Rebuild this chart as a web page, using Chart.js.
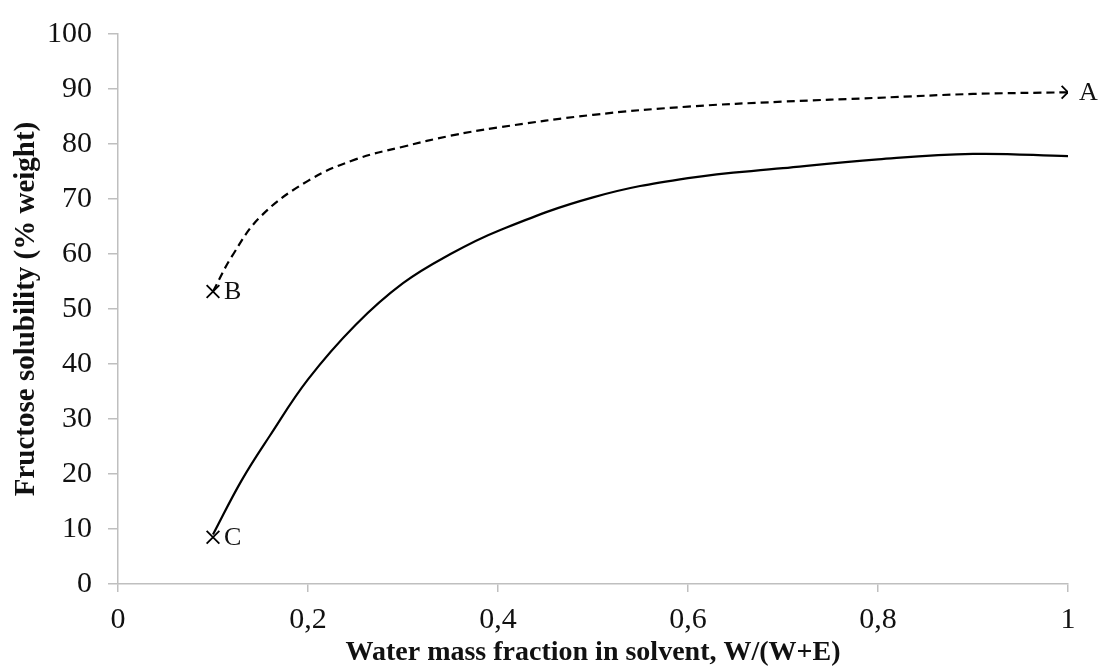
<!DOCTYPE html>
<html>
<head>
<meta charset="utf-8">
<script src="https://cdn.jsdelivr.net/npm/chart.js"></script>
<style>
  html, body { margin:0; padding:0; background:#fff; }
  #wrap { width:1102px; height:667px; }
</style>
</head>
<body>
<div id="wrap"><canvas id="chartSol" width="1102" height="667"></canvas></div>
<script>
// ── Data ──
const solidX  = [0.10, 0.13, 0.16, 0.20, 0.25, 0.30, 0.35, 0.40, 0.50, 0.60, 0.70, 0.80, 0.90, 1.00];
const solidY  = [9, 18.8, 27.0, 37.2, 47.1, 54.7, 60.0, 64.2, 70.3, 73.8, 75.6, 77.2, 78.2, 77.8];
const dashedX = [0.10, 0.12, 0.15, 0.20, 0.25, 0.30, 0.35, 0.40, 0.50, 0.60, 0.70, 0.80, 0.90, 1.00];
const dashedY = [53.2, 59.6, 66.8, 73.3, 77.2, 79.5, 81.5, 83.0, 85.3, 86.8, 87.7, 88.4, 89.1, 89.4];

const markerX      = [1.0, 0.1, 0.1];
const markerY      = [89.4, 53.2, 8.5];
const markerLabels = ['A', 'B', 'C'];

const xTicks = [0, 0.2, 0.4, 0.6, 0.8, 1];
const yTicks = [0, 10, 20, 30, 40, 50, 60, 70, 80, 90, 100];

const SERIF = "'Liberation Serif', 'DejaVu Serif', serif";
const AXIS_GREY = '#bfbfbf';

const toPts = (xs, ys) => xs.map((x, i) => ({ x, y: ys[i] }));

// ── Point labels (A, B, C) ──
const pointLabels = {
  id: 'pointLabels',
  afterDatasetsDraw(chart) {
    const meta = chart.getDatasetMeta(2);
    const ctx  = chart.ctx;
    ctx.save();
    ctx.font = '26px ' + SERIF;
    ctx.fillStyle = '#111';
    ctx.textBaseline = 'middle';
    ctx.textAlign = 'left';
    meta.data.forEach((el, i) => {
      ctx.fillText(markerLabels[i], el.x + 11, el.y + 1);
    });
    ctx.restore();
  }
};

new Chart(document.getElementById('chartSol').getContext('2d'), {
  type: 'scatter',
  data: {
    datasets: [
      {
        label: 'solid',
        data: toPts(solidX, solidY),
        showLine: true,
        borderColor: '#000',
        borderWidth: 2.2,
        pointRadius: 0,
        tension: 0.4,
      },
      {
        label: 'dashed',
        data: toPts(dashedX, dashedY),
        showLine: true,
        borderColor: '#000',
        borderWidth: 2.2,
        borderDash: [8, 5],
        pointRadius: 0,
        tension: 0.4,
      },
      {
        label: 'points',
        data: toPts(markerX, markerY),
        showLine: false,
        pointStyle: 'crossRot',
        pointRadius: 9,
        pointBorderWidth: 1.8,
        borderColor: '#000',
        backgroundColor: '#000',
      }
    ]
  },
  options: {
    responsive: false,
    animation: false,
    layout: { padding: { top: 16, right: 34, bottom: 0, left: 0 } },
    plugins: { legend: { display: false }, tooltip: { enabled: false } },
    scales: {
      x: {
        type: 'linear',
        min: 0, max: 1,
        afterBuildTicks: s => { s.ticks = xTicks.map(v => ({ value: v })); },
        afterFit: s => { s.height = 83; },
        border: { color: AXIS_GREY, width: 1.5 },
        grid: { drawOnChartArea: false, drawTicks: true, tickLength: 8, color: AXIS_GREY, lineWidth: 1.5 },
        ticks: {
          color: '#111',
          padding: 10,
          font: { family: SERIF, size: 30 },
          callback: v => String(v).replace('.', ',')
        },
        title: {
          display: true,
          text: 'Water mass fraction in solvent, W/(W+E)',
          color: '#111',
          font: { family: SERIF, size: 28, weight: 'bold', lineHeight: 1.0 },
          padding: { top: 0, bottom: 0 }
        }
      },
      y: {
        min: 0, max: 100,
        afterBuildTicks: s => { s.ticks = yTicks.map(v => ({ value: v })); },
        afterFit: s => { s.width = 118; },
        border: { color: AXIS_GREY, width: 1.5 },
        grid: { drawOnChartArea: false, drawTicks: true, tickLength: 10, color: AXIS_GREY, lineWidth: 1.5 },
        ticks: {
          color: '#111',
          padding: 16,
          font: { family: SERIF, size: 30 }
        },
        title: {
          display: true,
          text: 'Fructose solubility (% weight)',
          color: '#111',
          font: { family: SERIF, size: 29, weight: 'bold', lineHeight: 1.0 },
          padding: { top: 12, bottom: 0 }
        }
      }
    }
  },
  plugins: [pointLabels]
});
</script>
</body>
</html>
